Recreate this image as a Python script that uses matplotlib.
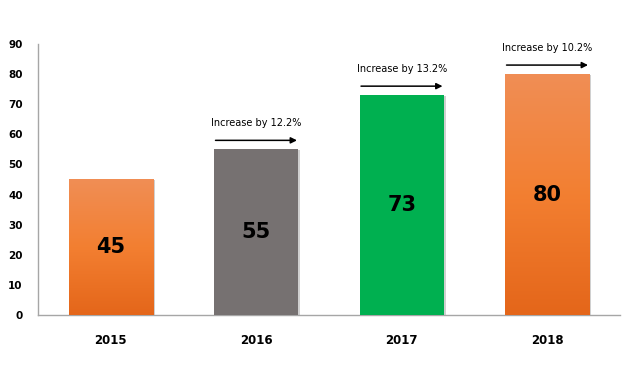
import matplotlib
matplotlib.use("Agg")
import matplotlib.pyplot as plt
import numpy as np
from matplotlib.colors import LinearSegmentedColormap
from matplotlib.patches import Rectangle

years = ["2015", "2016", "2017", "2018"]
values = [45, 55, 73, 80]
increases = [None, "Increase by 12.2%", "Increase by 13.2%", "Increase by 10.2%"]
kinds = ["orange", "gray", "green", "orange"]

fig = plt.figure(figsize=(6.31, 3.78), dpi=100)
ax = fig.add_axes([0.0602, 0.1667, 0.9224, 0.7169])

orange_cmap = LinearSegmentedColormap.from_list("og", ["#E4661A", "#F37F31", "#F08E55"])
solid = {"gray": "#767171", "green": "#00B050"}
width = 0.58
x = np.arange(len(years))

bars = ax.bar(x, values, width=width, color="none", zorder=3)
for xi, v, k, b in zip(x, values, kinds, bars):
    ax.add_patch(Rectangle((xi - width / 2 + 0.012, 0), width, v - 0.3,
                           facecolor="#D0D0D0", edgecolor="none", zorder=2))
    if k == "orange":
        grad = np.linspace(0, 1, 256).reshape(-1, 1)
        im = ax.imshow(grad, cmap=orange_cmap, origin="lower", aspect="auto",
                       extent=(xi - width / 2, xi + width / 2, 0, v), zorder=3)
        im.set_clip_path(b)
    else:
        b.set_facecolor(solid[k])
    ax.text(xi, v / 2, str(v), ha="center", va="center", fontsize=15,
            fontweight="heavy", color="black", zorder=4)

for xi, v, t in zip(x, values, increases):
    if t is None:
        continue
    ax.annotate("", xy=(xi + width / 2 - 0.01, v + 3), xytext=(xi - width / 2 + 0.01, v + 3),
                arrowprops=dict(arrowstyle="-|>", color="black", lw=1.1,
                                mutation_scale=9, shrinkA=0, shrinkB=0))
    ax.text(xi, v + 8.6, t, ha="center", va="center", fontsize=7, color="black")

ax.set_xlim(-0.5, 3.5)
ax.set_ylim(0, 90)
ax.set_yticks(range(0, 91, 10))
ax.set_xticks(x)
ax.set_xticklabels(years, fontsize=8.5, fontweight="bold")
for lab in ax.get_yticklabels():
    lab.set_fontweight("bold")
    lab.set_fontsize(7.5)
ax.tick_params(axis="both", length=0)
ax.tick_params(axis="y", pad=11)
ax.tick_params(axis="x", pad=14)
for s in ["top", "right"]:
    ax.spines[s].set_visible(False)
for s in ["left", "bottom"]:
    ax.spines[s].set_color("#A6A6A6")
    ax.spines[s].set_linewidth(1)

fig.savefig("out.png", dpi=100)
